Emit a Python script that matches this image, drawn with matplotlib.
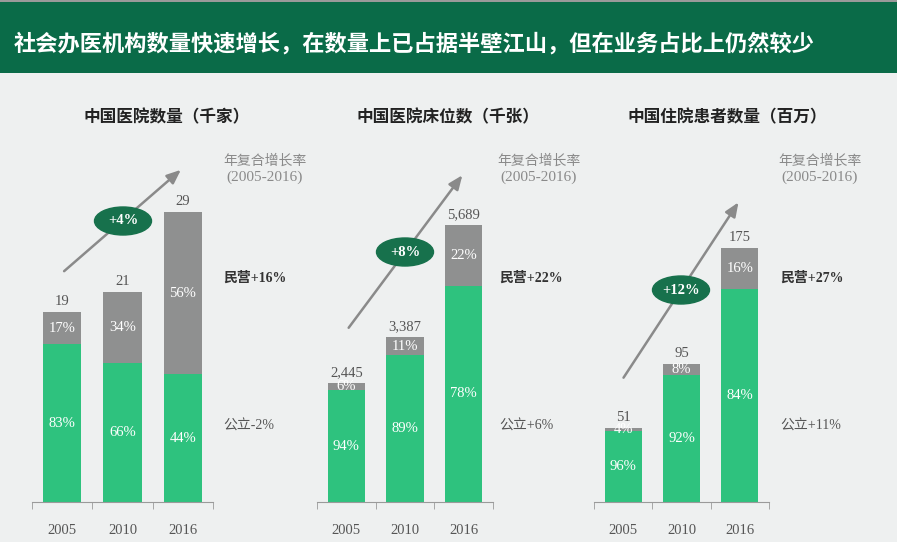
import matplotlib.pyplot as plt
from matplotlib.patches import Ellipse, Rectangle, FancyArrowPatch

plt.rcParams['font.family'] = ['Liberation Serif', 'Noto Sans CJK SC']

# Data
YEARS = ['2005', '2010', '2016']
TITLES = ['中国医院数量（千家）', '中国医院床位数（千张）', '中国住院患者数量（百万）']
TOTALS = [[19, 21, 29], [2445, 3387, 5689], [51, 95, 175]]
TOTAL_LABELS = [['19', '21', '29'], ['2,445', '3,387', '5,689'], ['51', '95', '175']]
PRIVATE_PCT = [[17, 34, 56], [6, 11, 22], [4, 8, 16]]
PUBLIC_PCT = [[83, 66, 44], [94, 89, 78], [96, 92, 84]]
CAGR_TOTAL = ['+4%', '+8%', '+12%']
CAGR_PRIVATE = ['民营+16%', '民营+22%', '民营+27%']
CAGR_PUBLIC = ['公立-2%', '公立+6%', '公立+11%']

W, H = 897, 542
BG = '#eef0f0'
GREEN = '#2ec27e'
GREY = '#8f9090'
DARK = '#0a6b48'

# layout in pixels: axis left/right, pixels per data unit, annotation anchors
LAYOUT = [
    dict(x0=32, x1=213, ppu=10.0, title_x=167, cagr_x=265, arrow=((62, 273), (183, 168)),
         ell=(123, 221), lab_x=223),
    dict(x0=317, x1=493, ppu=277 / 5689, title_x=448, cagr_x=539, arrow=((347, 330), (464, 173)),
         ell=(405, 252), lab_x=499),
    dict(x0=594, x1=769, ppu=254 / 175, title_x=727, cagr_x=820, arrow=((622, 380), (740, 200)),
         ell=(681, 290), lab_x=780),
]
BASE_Y = 502
TOP_Y = 150

fig = plt.figure(figsize=(W / 100, H / 100), dpi=100, facecolor=BG)

# overlay in pixel coordinates for the header and annotations
ov = fig.add_axes([0, 0, 1, 1], zorder=0)
ov.set_xlim(0, W)
ov.set_ylim(H, 0)
ov.axis('off')
ov.add_patch(Rectangle((0, 0), W, 73, color=DARK, lw=0))
ov.add_patch(Rectangle((0, 0), W, 2, color='#9a9a9a', lw=0))
ov.text(14, 44, '社会办医机构数量快速增长，在数量上已占据半壁江山，但在业务占比上仍然较少',
        color='white', fontsize=16, fontweight='bold', va='center', ha='left',
        family=['Noto Sans CJK SC'])

for i, lay in enumerate(LAYOUT):
    ax = fig.add_axes([lay['x0'] / W, (H - BASE_Y) / H,
                       (lay['x1'] - lay['x0']) / W, (BASE_Y - TOP_Y) / H], zorder=2)
    ax.set_facecolor('none')
    totals = TOTALS[i]
    pub = [t * p / 100 for t, p in zip(totals, PUBLIC_PCT[i])]
    priv = [t * p / 100 for t, p in zip(totals, PRIVATE_PCT[i])]
    x = range(len(YEARS))
    ax.bar(x, pub, width=0.64, color=GREEN)
    ax.bar(x, priv, width=0.64, bottom=pub, color=GREY)
    ax.set_xlim(-0.5, 2.5)
    ax.set_ylim(0, (BASE_Y - TOP_Y) / lay['ppu'])

    for j in x:
        ax.text(j, pub[j] / 2, f'{PUBLIC_PCT[i][j]}%', color='white', fontsize=10.5,
                ha='center', va='center')
        ax.text(j, pub[j] + priv[j] / 2, f'{PRIVATE_PCT[i][j]}%', color='white', fontsize=10.5,
                ha='center', va='center')
        ax.annotate(TOTAL_LABELS[i][j], (j, totals[j]), xytext=(0, 3),
                    textcoords='offset points', ha='center', va='bottom',
                    fontsize=10.5, color='#555555')

    for s in ['top', 'right', 'left']:
        ax.spines[s].set_visible(False)
    ax.spines['bottom'].set_color('#9a9a9a')
    ax.set_yticks([])
    ax.set_xticks(list(x))
    ax.set_xticklabels(YEARS, fontsize=10.5, color='#555555')
    ax.tick_params(axis='x', which='major', length=0, pad=16)
    ax.set_xticks([-0.5, 0.5, 1.5, 2.5], minor=True)
    ax.tick_params(axis='x', which='minor', length=5, color='#9a9a9a')

    # annotations
    ov.text(lay['title_x'], 117, TITLES[i], fontsize=12, fontweight='bold', color='#222222',
            ha='center', va='center', family=['Noto Sans CJK SC'])
    ov.text(lay['cagr_x'], 161, '年复合增长率', fontsize=10, color='#8a8a8a',
            ha='center', va='center', family=['Noto Sans CJK SC'])
    ov.text(lay['cagr_x'], 177, '(2005-2016)', fontsize=11, color='#8a8a8a',
            ha='center', va='center')
    (sx, sy), (ex, ey) = lay['arrow']
    ov.add_patch(FancyArrowPatch((sx, sy), (ex, ey), arrowstyle='-|>,head_length=0.6,head_width=0.25',
                                 mutation_scale=14, color='#8a8a8a', lw=1.8))
    ex_, ey_ = lay['ell']
    ov.add_patch(Ellipse((ex_, ey_), 57, 28, color='#17714c', zorder=3))
    ov.text(ex_, ey_, CAGR_TOTAL[i], color='white', fontsize=10.5, fontweight='bold',
            ha='center', va='center', zorder=4)
    ov.text(lay['lab_x'], 278, CAGR_PRIVATE[i], fontsize=10, fontweight='bold', color='#333333',
            ha='left', va='center')
    ov.text(lay['lab_x'], 426, CAGR_PUBLIC[i], fontsize=10, color='#555555',
            ha='left', va='center')

fig.savefig('out.png', dpi=100, facecolor=BG)
